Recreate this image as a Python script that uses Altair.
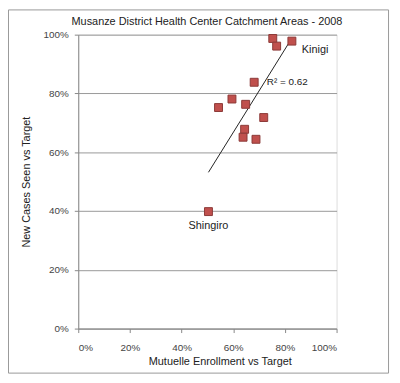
import altair as alt
import pandas as pd

enroll = [0.753, 0.768, 0.827, 0.681, 0.595, 0.543, 0.648, 0.718, 0.644, 0.638, 0.688, 0.504]
cases = [0.987, 0.961, 0.978, 0.838, 0.781, 0.752, 0.763, 0.718, 0.678, 0.651, 0.644, 0.398]
names = ["", "", "Kinigi", "", "", "", "", "", "", "", "", "Shingiro"]
title_text = "Musanze District  Health Center Catchment Areas - 2008"

df = pd.DataFrame({"x": enroll, "y": cases, "name": names})

W, H = 261, 297
xs = alt.Scale(domain=[0, 1], nice=False, zero=True)
ys = alt.Scale(domain=[0, 1], nice=False, zero=True)

xax = alt.Axis(format="%", values=[0, 0.2, 0.4, 0.6, 0.8, 1.0], grid=False,
               title="Mutuelle Enrollment vs Target", titleFontSize=11, titleFontWeight="normal",
               titleColor="#222", labelColor="#444", labelFontSize=10, domainColor="#888",
               tickColor="#888", tickSize=4, labelPadding=10, titlePadding=3, titleX=143,
               labelFont="Liberation Sans", titleFont="Liberation Sans")
yax = alt.Axis(format="%", values=[0, 0.2, 0.4, 0.6, 0.8, 1.0], grid=True, gridColor="#999",
               title="New Cases Seen vs Target", titleFontSize=11, titleFontWeight="normal",
               titleColor="#222", labelColor="#444", labelFontSize=10, domainColor="#888",
               tickColor="#888", tickSize=4, labelPadding=6, titlePadding=12,
               labelFont="Liberation Sans", titleFont="Liberation Sans")

base = alt.Chart(df)
one = base.transform_filter("datum.name == 'Kinigi'")

frame = one.mark_rect(fill=None, stroke="#999", strokeWidth=1).encode(
    x=alt.value(-70.5), x2=alt.value(W + 52.5), y=alt.value(-25), y2=alt.value(H + 45)
)

title = one.mark_text(align="center", baseline="middle", fontSize=11, font="Liberation Sans",
                      color="#222").encode(
    x=alt.value(130), y=alt.value(-13), text=alt.value(title_text)
)

pts = base.mark_square(size=64, color="#c0504d", stroke="#8c3a38", strokeWidth=1, opacity=1).encode(
    x=alt.X("x:Q", scale=xs, axis=xax),
    y=alt.Y("y:Q", scale=ys, axis=yax),
)

trend = base.transform_regression("x", "y").mark_line(color="#222", strokeWidth=1).encode(
    x=alt.X("x:Q", scale=xs), y=alt.Y("y:Q", scale=ys)
)

lab_k = base.transform_filter("datum.name == 'Kinigi'").mark_text(
    align="left", dx=10, dy=9, fontSize=11, font="Liberation Sans", color="#222"
).encode(x=alt.X("x:Q", scale=xs), y=alt.Y("y:Q", scale=ys), text="name:N")

lab_s = base.transform_filter("datum.name == 'Shingiro'").mark_text(
    align="center", dy=15, fontSize=11, font="Liberation Sans", color="#222"
).encode(x=alt.X("x:Q", scale=xs), y=alt.Y("y:Q", scale=ys), text="name:N")

r2 = one.mark_text(align="left", fontSize=10, font="Liberation Sans", color="#222").encode(
    x=alt.datum(0.73), y=alt.datum(0.84), text=alt.value("R² = 0.62")
)

chart = alt.layer(frame, title, trend, pts, lab_k, lab_s, r2).properties(
    width=W, height=H,
    autosize="none",
    padding={"left": 71, "top": 25, "right": 56, "bottom": 48},
).configure_view(stroke=None).configure(background="white")

chart.save("out.html", embed_options={"renderer": "svg", "actions": False})
